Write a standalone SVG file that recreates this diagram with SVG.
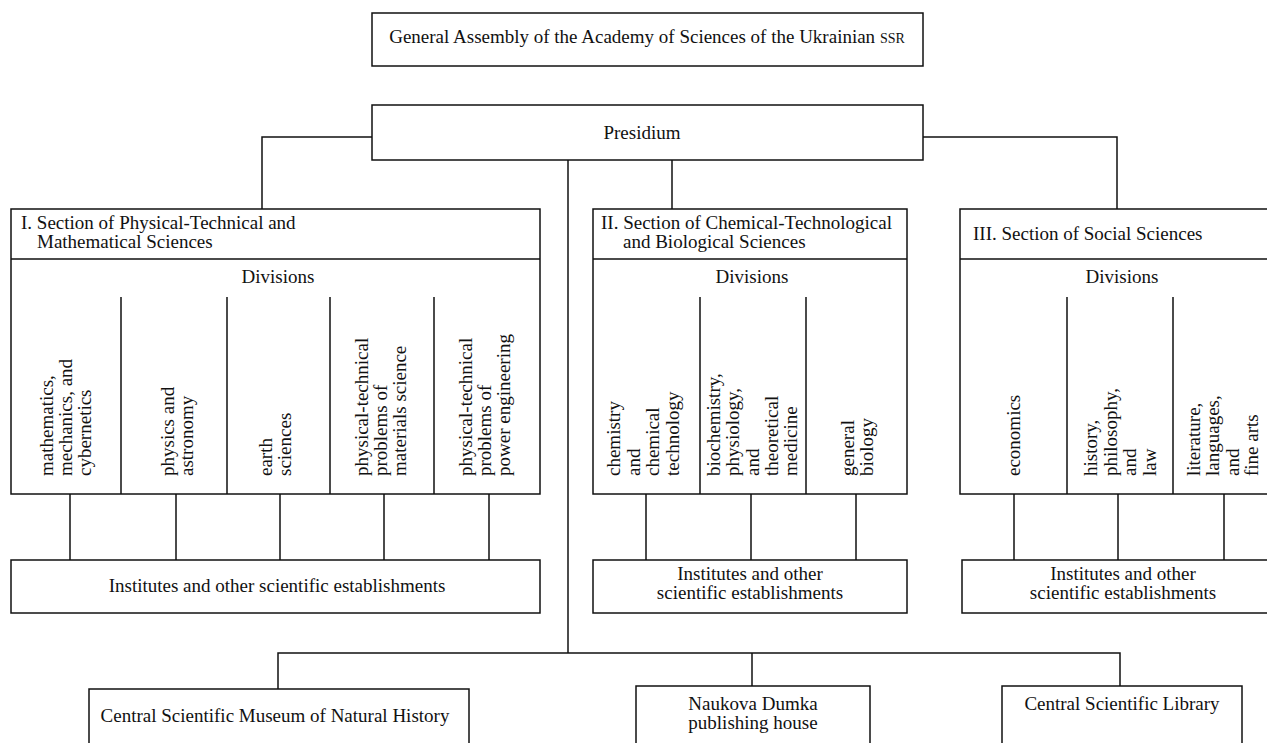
<svg xmlns="http://www.w3.org/2000/svg" width="1267" height="743" viewBox="0 0 1267 743">
<style>
.b{fill:#fff;stroke:#111;stroke-width:1.5}
.l{fill:none;stroke:#111;stroke-width:1.5}
text{font-family:"Liberation Serif","Times New Roman",serif;font-size:19px;fill:#111}
.c{text-anchor:middle}
</style>
<rect width="1267" height="743" fill="#fff"/>

<g id="connectors" class="l">
  <path d="M372 137H262V209"/>
  <path d="M923 137H1117V209"/>
  <path d="M672 160V209"/>
  <path d="M568 160V653"/>
  <path d="M278 689V653H1120V686"/>
  <path d="M752 653V686"/>
  <path d="M70 494V560M176 494V560M280 494V560M384 494V560M489 494V560"/>
  <path d="M646 494V560M751 494V560M856 494V560"/>
  <path d="M1014 494V560M1118 494V560M1224 494V560"/>
</g>

<g id="general-assembly">
  <rect class="b" x="372" y="13" width="551" height="53"/>
  <text class="c" x="647" y="43">General Assembly of the Academy of Sciences of the Ukrainian <tspan font-size="14">SSR</tspan></text>
</g>

<g id="presidium">
  <rect class="b" x="372" y="105" width="551" height="55"/>
  <text class="c" x="642" y="139">Presidium</text>
</g>

<g id="section-1">
  <rect class="b" x="11" y="209" width="529" height="285"/>
  <path class="l" d="M11 259H540M121 297V494M227 297V494M330 297V494M434 297V494"/>
  <text x="21" y="229">I. Section of Physical-Technical and</text>
  <text x="37" y="248">Mathematical Sciences</text>
  <text class="c" x="278" y="283">Divisions</text>
  <g id="div-mathematics">
    <text transform="translate(53 476) rotate(-90)"><tspan x="0" y="0">mathematics,</tspan><tspan x="0" y="19">mechanics, and</tspan><tspan x="0" y="38">cybernetics</tspan></text>
  </g>
  <g id="div-physics">
    <text transform="translate(174 476) rotate(-90)"><tspan x="0" y="0">physics and</tspan><tspan x="0" y="19">astronomy</tspan></text>
  </g>
  <g id="div-earth">
    <text transform="translate(272 476) rotate(-90)"><tspan x="0" y="0">earth</tspan><tspan x="0" y="19">sciences</tspan></text>
  </g>
  <g id="div-materials">
    <text transform="translate(368 476) rotate(-90)"><tspan x="0" y="0">physical-technical</tspan><tspan x="0" y="19">problems of</tspan><tspan x="0" y="38">materials science</tspan></text>
  </g>
  <g id="div-power">
    <text transform="translate(472 476) rotate(-90)"><tspan x="0" y="0">physical-technical</tspan><tspan x="0" y="19">problems of</tspan><tspan x="0" y="38">power engineering</tspan></text>
  </g>
</g>

<g id="section-2">
  <rect class="b" x="593" y="209" width="314" height="285"/>
  <path class="l" d="M593 259H907M700 297V494M806 297V494"/>
  <text x="601" y="229">II. Section of Chemical-Technological</text>
  <text x="623" y="248">and Biological Sciences</text>
  <text class="c" x="752" y="283">Divisions</text>
  <g id="div-chemistry">
    <text transform="translate(620 476) rotate(-90)"><tspan x="0" y="0">chemistry</tspan><tspan x="0" y="19.5">and</tspan><tspan x="0" y="39">chemical</tspan><tspan x="0" y="58.5">technology</tspan></text>
  </g>
  <g id="div-biochemistry">
    <text transform="translate(720 476) rotate(-90)"><tspan x="0" y="0">biochemistry,</tspan><tspan x="0" y="19.3">physiology,</tspan><tspan x="0" y="38.6">and</tspan><tspan x="0" y="57.9">theoretical</tspan><tspan x="0" y="77.2">medicine</tspan></text>
  </g>
  <g id="div-biology">
    <text transform="translate(854 476) rotate(-90)"><tspan x="0" y="0">general</tspan><tspan x="0" y="19">biology</tspan></text>
  </g>
</g>

<g id="section-3">
  <rect class="b" x="960" y="209" width="330" height="285"/>
  <path class="l" d="M960 259H1290M1067 297V494M1173 297V494"/>
  <text x="973" y="240">III. Section of Social Sciences</text>
  <text class="c" x="1122" y="283">Divisions</text>
  <g id="div-economics">
    <text transform="translate(1020 476) rotate(-90)">economics</text>
  </g>
  <g id="div-history">
    <text transform="translate(1097 476) rotate(-90)"><tspan x="0" y="0">history,</tspan><tspan x="0" y="19.5">philosophy,</tspan><tspan x="0" y="39">and</tspan><tspan x="0" y="58.5">law</tspan></text>
  </g>
  <g id="div-literature">
    <text transform="translate(1200 476) rotate(-90)"><tspan x="0" y="0">literature,</tspan><tspan x="0" y="19.3">languages,</tspan><tspan x="0" y="38.6">and</tspan><tspan x="0" y="57.9">fine arts</tspan></text>
  </g>
</g>

<g id="institutes-1">
  <rect class="b" x="11" y="560" width="529" height="53"/>
  <text class="c" x="277" y="592">Institutes and other scientific establishments</text>
</g>
<g id="institutes-2">
  <rect class="b" x="593" y="560" width="314" height="53"/>
  <text class="c" x="750" y="580">Institutes and other</text>
  <text class="c" x="750" y="599">scientific establishments</text>
</g>
<g id="institutes-3">
  <rect class="b" x="962" y="560" width="330" height="53"/>
  <text class="c" x="1123" y="580">Institutes and other</text>
  <text class="c" x="1123" y="599">scientific establishments</text>
</g>

<g id="museum">
  <rect class="b" x="89" y="689" width="380" height="80"/>
  <text class="c" x="275" y="722">Central Scientific Museum of Natural History</text>
</g>
<g id="naukova-dumka">
  <rect class="b" x="636" y="686" width="234" height="80"/>
  <text class="c" x="753" y="710">Naukova Dumka</text>
  <text class="c" x="753" y="729">publishing house</text>
</g>
<g id="library">
  <rect class="b" x="1002" y="686" width="240" height="80"/>
  <text class="c" x="1122" y="710">Central Scientific Library</text>
</g>
</svg>
